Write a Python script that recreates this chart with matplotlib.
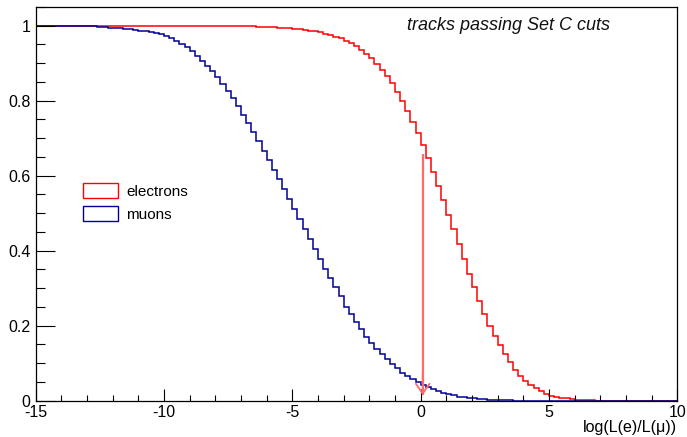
import numpy as np
import matplotlib
matplotlib.use("Agg")
import matplotlib.pyplot as plt
from matplotlib.patches import Patch
from matplotlib.ticker import MultipleLocator, FixedLocator

plt.rcParams['font.family'] = ['Liberation Sans', 'DejaVu Sans']

# Histogram binning: 125 bins of width 0.2 from -15 to 10
x_min, x_max, n_bins = -15.0, 10.0, 125

electrons = [
    1.000, 1.000, 1.000, 1.000, 1.000, 1.000, 1.000, 1.000, 1.000, 1.000,  # -15 .. -13
    1.000, 1.000, 1.000, 1.000, 1.000, 1.000, 1.000, 1.000, 1.000, 1.000,  # -13 .. -11
    1.000, 1.000, 1.000, 1.000, 1.000, 1.000, 1.000, 1.000, 1.000, 1.000,  # -11 .. -9
    1.000, 1.000, 1.000, 1.000, 1.000, 1.000, 0.999, 0.999, 0.999, 0.999,  # -9 .. -7
    0.998, 0.998, 0.998, 0.997, 0.997, 0.996, 0.996, 0.995, 0.994, 0.993,  # -7 .. -5
    0.992, 0.991, 0.989, 0.987, 0.985, 0.982, 0.979, 0.975, 0.971, 0.966,  # -5 .. -3
    0.960, 0.953, 0.945, 0.936, 0.925, 0.913, 0.899, 0.883, 0.866, 0.846,  # -3 .. -1
    0.824, 0.800, 0.773, 0.744, 0.714, 0.682, 0.648, 0.611, 0.573, 0.535,  # -1 .. 1
    0.496, 0.457, 0.417, 0.377, 0.338, 0.302, 0.267, 0.232, 0.199, 0.172,  # 1 .. 3
    0.148, 0.124, 0.102, 0.082, 0.066, 0.053, 0.042, 0.033, 0.025, 0.018,  # 3 .. 5
    0.013, 0.010, 0.008, 0.006, 0.004, 0.003, 0.002, 0.0015, 0.001, 0.0005,  # 5 .. 7
    0.0, 0.0, 0.0, 0.0, 0.0, 0.0, 0.0, 0.0, 0.0, 0.0,  # 7 .. 9
    0.0, 0.0, 0.0, 0.0, 0.0,  # 9 .. 10
]

muons = [
    1.000, 1.000, 1.000, 1.000, 1.000, 1.000, 1.000, 0.999, 0.999, 0.999,  # -15 .. -13
    0.998, 0.998, 0.997, 0.996, 0.995, 0.994, 0.993, 0.992, 0.990, 0.989,  # -13 .. -11
    0.987, 0.985, 0.983, 0.980, 0.977, 0.973, 0.967, 0.960, 0.952, 0.942,  # -11 .. -9
    0.932, 0.920, 0.907, 0.893, 0.878, 0.862, 0.845, 0.826, 0.806, 0.785,  # -9 .. -7
    0.763, 0.740, 0.716, 0.692, 0.667, 0.642, 0.616, 0.590, 0.564, 0.537,  # -7 .. -5
    0.511, 0.484, 0.457, 0.430, 0.404, 0.378, 0.352, 0.327, 0.302, 0.278,  # -5 .. -3
    0.251, 0.230, 0.210, 0.190, 0.171, 0.154, 0.138, 0.125, 0.110, 0.097,  # -3 .. -1
    0.086, 0.075, 0.066, 0.058, 0.050, 0.043, 0.037, 0.031, 0.026, 0.021,  # -1 .. 1
    0.017, 0.014, 0.011, 0.009, 0.007, 0.006, 0.005, 0.004, 0.003, 0.002,  # 1 .. 3
    0.0015, 0.001, 0.0007, 0.0004, 0.0002, 0.0, 0.0, 0.0, 0.0, 0.0,  # 3 .. 5
    0.0, 0.0, 0.0, 0.0, 0.0, 0.0, 0.0, 0.0, 0.0, 0.0,  # 5 .. 7
    0.0, 0.0, 0.0, 0.0, 0.0, 0.0, 0.0, 0.0, 0.0, 0.0,  # 7 .. 9
    0.0, 0.0, 0.0, 0.0, 0.0,  # 9 .. 10
]

series_labels = ["electrons", "muons"]
cut_value = 0.08
cut_top = 0.657
cut_bottom = 0.015
title_text = "tracks passing Set C cuts"
x_label = "log(L(e)/L(\u03bc))"
x_ticks = [-15, -10, -5, 0, 5, 10]
y_ticks = [0, 0.2, 0.4, 0.6, 0.8, 1.0]
y_ticklabels = ["0", "0.2", "0.4", "0.6", "0.8", "1"]

RED = "#ff0000"
BLUE = "#000099"
ARROW = "#ff6a6a"

fig = plt.figure(figsize=(6.87, 4.37), dpi=100)
ax = fig.add_axes([35.7 / 687, (437 - 400.7) / 437, (677.3 - 35.7) / 687, (400.7 - 7) / 437])

edges = np.linspace(x_min, x_max, n_bins + 1)
ax.stairs(electrons, edges, color=RED, lw=1.1, baseline=None)
ax.stairs(muons, edges, color=BLUE, lw=1.1, baseline=None)

# cut arrow: shaft + small open head
ax.plot([cut_value, cut_value], [cut_bottom, cut_top], color=ARROW, lw=1.6,
        solid_capstyle='butt', zorder=4)
ax.annotate("", xy=(cut_value, cut_bottom), xytext=(cut_value, cut_bottom + 0.06),
            arrowprops=dict(arrowstyle="->,head_length=0.5,head_width=0.35",
                            color=ARROW, lw=1.3, mutation_scale=14,
                            shrinkA=0, shrinkB=0), zorder=5)

ax.set_xlim(x_min, x_max)
ax.set_ylim(0, 1.05)

ax.xaxis.set_major_locator(FixedLocator(x_ticks))
ax.xaxis.set_minor_locator(MultipleLocator(1))
ax.yaxis.set_major_locator(FixedLocator(y_ticks))
ax.yaxis.set_minor_locator(MultipleLocator(0.05))
ax.set_yticklabels(y_ticklabels)
ax.set_xticklabels([str(t) for t in x_ticks])

ax.tick_params(axis='x', which='major', direction='in', length=8.6, width=0.8,
               labelsize=11.5, pad=3.0, top=False)
ax.tick_params(axis='x', which='minor', direction='in', length=4.3, width=0.8, top=False)
ax.tick_params(axis='y', which='major', direction='in', length=13.5, width=0.8,
               labelsize=11.5, pad=3.6, right=False)
ax.tick_params(axis='y', which='minor', direction='in', length=6.8, width=0.8, right=False)
for s in ax.spines.values():
    s.set_linewidth(0.9)

ax.text(3.41, 1.0, title_text, ha='center', va='center', fontsize=13,
        style='italic', color='#111111')

ax.text(1.0, -0.069, x_label, transform=ax.transAxes, ha='right', va='center',
        fontsize=11.5)

handles = [Patch(facecolor='white', edgecolor=RED, lw=1.0),
           Patch(facecolor='white', edgecolor=BLUE, lw=1.0)]
ax.legend(handles, series_labels, loc='upper left',
          bbox_to_anchor=((82.7 - 35.7) / 641.6, (400.7 - 183) / 393.7),
          frameon=False, fontsize=11, handlelength=2.33, handleheight=1.1,
          handletextpad=0.5, labelspacing=0.5, borderpad=0, borderaxespad=0)

fig.savefig("out.png", dpi=100)
